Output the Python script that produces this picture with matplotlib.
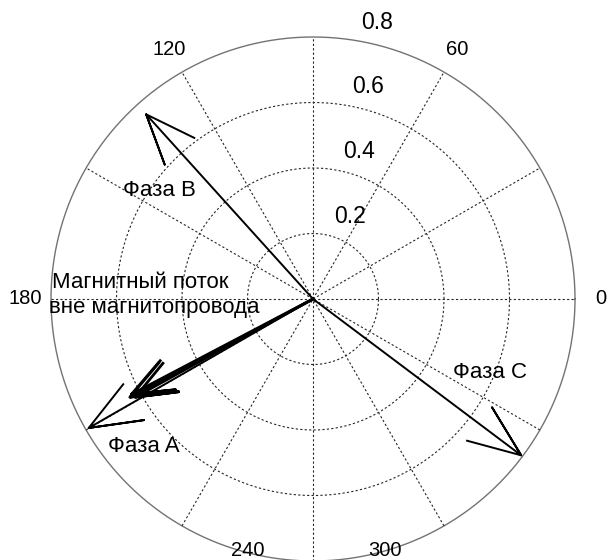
import numpy as np
import matplotlib
matplotlib.use("Agg")
import matplotlib.pyplot as plt

plt.rcParams["font.family"] = ["Liberation Sans", "DejaVu Sans"]

# phasor data: magnitude and angle (degrees)
phase_names = ["Фаза A", "Фаза B", "Фаза C"]
phase_mag = [0.79, 0.76, 0.795]
phase_ang = [209.9, 132.1, 323.1]

# flux outside the magnetic core (several nearly overlapping vectors)
flux_label = ["Магнитный поток", "вне магнитопровода"]
flux_mag = [0.634, 0.626, 0.620]
flux_ang = [208.2, 207.7, 208.9]

r_ticks = [0.2, 0.4, 0.6]
r_max = 0.8
theta_labels = ["0", "60", "120", "180", "240", "300"]


def compass_xy(mag, ang_deg):
    # MATLAB-style compass arrow: shaft plus two head strokes
    z = mag * np.exp(1j * np.deg2rad(ang_deg))
    a = np.array([0, 1, 0.8, 1, 0.8])
    b = np.array([0, 0, 0.08, 0, -0.08])
    pts = (a + 1j * b) * z
    return pts.real, pts.imag


fig = plt.figure(figsize=(6.08, 5.6), dpi=100)
ax = fig.add_axes([0, 0, 1, 1])
s = r_max / 262.0  # data units per pixel
ax.set_xlim(-313 * s, (608 - 313) * s)
ax.set_ylim(-(560 - 299) * s, 299 * s)
ax.axis("off")

t = np.linspace(0, 2 * np.pi, 400)
for r in r_ticks:
    ax.plot(r * np.cos(t), r * np.sin(t), ls=(0, (2, 2)), color="0.15", lw=0.8)
ax.plot(r_max * np.cos(t), r_max * np.sin(t), color="0.45", lw=1.0)

for deg in range(0, 180, 30):
    c, sn = np.cos(np.deg2rad(deg)), np.sin(np.deg2rad(deg))
    ax.plot([-r_max * c, r_max * c], [-r_max * sn, r_max * sn],
            ls=(0, (2, 2)), color="0.15", lw=0.8)

# radial tick labels at 82 degrees
c82, s82 = np.cos(np.deg2rad(82)), np.sin(np.deg2rad(82))
for r in r_ticks + [r_max]:
    ax.annotate(f"{r:g}", ((r + 0.01) * c82, (r + 0.01) * s82),
                xytext=(8, 2), textcoords="offset points",
                ha="left", va="bottom", fontsize=16.5)

# angle labels
for lab in theta_labels:
    deg = float(lab)
    rt = 1.1 * r_max
    x, y = rt * np.cos(np.deg2rad(deg)), rt * np.sin(np.deg2rad(deg))
    if lab == "240":
        x, y = -65 * s, -251 * s
    if lab == "300":
        x, y = 72 * s, -251 * s
    ax.text(x, y, lab, ha="center", va="center", fontsize=14.5)

for m, a in zip(phase_mag, phase_ang):
    x, y = compass_xy(m, a)
    ax.plot(x, y, color="k", lw=1.4)

for m, a in zip(flux_mag, flux_ang):
    x, y = compass_xy(m, a)
    ax.plot(x, y, color="k", lw=2.0)

ax.text(-261 * s, 11 * s, flux_label[0], ha="left", va="baseline", fontsize=16)
ax.text(-264 * s, -14 * s, flux_label[1], ha="left", va="baseline", fontsize=16)
ax.text(-190 * s, 108 * s, phase_names[1], fontsize=16, ha="left", va="center")
ax.text(-205 * s, -147 * s, phase_names[0], fontsize=16, ha="left", va="center")
ax.text(140 * s, -73 * s, phase_names[2], fontsize=16, ha="left", va="center")

fig.savefig("out.png", dpi=100)
